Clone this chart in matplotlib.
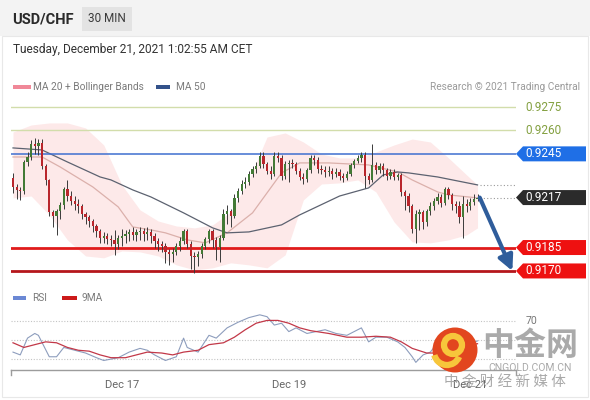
import matplotlib.pyplot as plt
import matplotlib.transforms as mtransforms
import numpy as np
from matplotlib.patches import Rectangle, Polygon, Ellipse, Arc

plt.rcParams["font.family"] = ["Roboto", "DejaVu Sans"]

W, H = 590, 400

# ---- price data (30 min candles) ----
first_open = 0.92296
closes = [
    0.92238, 0.92219, 0.92210, 0.92398, 0.92430, 0.92513, 0.92500, 0.92520, 0.92372, 0.92283,
    0.92078, 0.92052, 0.92084, 0.92123, 0.92225, 0.92180, 0.92148, 0.92129, 0.92116, 0.92065,
    0.92046, 0.92020, 0.91988, 0.91956, 0.91912, 0.91924, 0.91905, 0.91899, 0.91873, 0.91912,
    0.91924, 0.91937, 0.91950, 0.91931, 0.91950, 0.91956, 0.91937, 0.91950, 0.91924, 0.91892,
    0.91873, 0.91860, 0.91822, 0.91809, 0.91822, 0.91860, 0.91892, 0.91956, 0.91873, 0.91796,
    0.91790, 0.91809, 0.91860, 0.91905, 0.91956, 0.91899, 0.91854, 0.91912, 0.92065, 0.92084,
    0.92052, 0.92168, 0.92212, 0.92257, 0.92270, 0.92321, 0.92353, 0.92372, 0.92436, 0.92385,
    0.92340, 0.92321, 0.92436, 0.92424, 0.92308, 0.92385, 0.92392, 0.92385, 0.92340, 0.92302,
    0.92289, 0.92347, 0.92424, 0.92411, 0.92353, 0.92347, 0.92334, 0.92340, 0.92321, 0.92334,
    0.92308, 0.92296, 0.92321, 0.92379, 0.92404, 0.92424, 0.92443, 0.92308, 0.92283, 0.92379,
    0.92347, 0.92372, 0.92347, 0.92308, 0.92334, 0.92302, 0.92315, 0.92206, 0.92180, 0.92116,
    0.91969, 0.92065, 0.92078, 0.92014, 0.92084, 0.92116, 0.92148, 0.92174, 0.92136, 0.92225,
    0.92187, 0.92129, 0.92116, 0.92046, 0.92129, 0.92116, 0.92142, 0.92161, 0.92170,
]
highs = [
    0.92325, 0.92260, 0.92240, 0.92410, 0.92460, 0.92540, 0.92550, 0.92545, 0.92545, 0.92385,
    0.92290, 0.92090, 0.92100, 0.92140, 0.92235, 0.92280, 0.92210, 0.92180, 0.92160, 0.92130,
    0.92080, 0.92060, 0.92030, 0.92000, 0.91970, 0.91950, 0.91940, 0.91930, 0.91960, 0.91930,
    0.91970, 0.91960, 0.91970, 0.91980, 0.91970, 0.91980, 0.91975, 0.91980, 0.91970, 0.91940,
    0.91910, 0.91890, 0.91880, 0.91840, 0.91850, 0.91880, 0.91920, 0.91970, 0.91970, 0.91890,
    0.91820, 0.91830, 0.91880, 0.91920, 0.91970, 0.91970, 0.91920, 0.91930, 0.92100, 0.92120,
    0.92100, 0.92190, 0.92230, 0.92280, 0.92300, 0.92340, 0.92370, 0.92400, 0.92460, 0.92460,
    0.92400, 0.92370, 0.92460, 0.92460, 0.92440, 0.92405, 0.92410, 0.92420, 0.92400, 0.92360,
    0.92330, 0.92360, 0.92440, 0.92440, 0.92430, 0.92380, 0.92370, 0.92370, 0.92360, 0.92360,
    0.92350, 0.92330, 0.92340, 0.92390, 0.92420, 0.92440, 0.92460, 0.92460, 0.92330, 0.92510,
    0.92400, 0.92390, 0.92390, 0.92360, 0.92350, 0.92350, 0.92330, 0.92330, 0.92220, 0.92200,
    0.92130, 0.92090, 0.92100, 0.92090, 0.92100, 0.92140, 0.92170, 0.92200, 0.92190, 0.92240,
    0.92240, 0.92200, 0.92150, 0.92150, 0.92180, 0.92160, 0.92170, 0.92190, 0.92190,
]
lows = [
    0.92200, 0.92160, 0.92155, 0.92190, 0.92370, 0.92410, 0.92450, 0.92440, 0.92350, 0.92250,
    0.92050, 0.91980, 0.91930, 0.92030, 0.92100, 0.92150, 0.92120, 0.92090, 0.92070, 0.92030,
    0.92000, 0.91980, 0.91950, 0.91920, 0.91880, 0.91880, 0.91870, 0.91860, 0.91800, 0.91840,
    0.91860, 0.91880, 0.91890, 0.91900, 0.91890, 0.91900, 0.91890, 0.91900, 0.91880, 0.91850,
    0.91830, 0.91820, 0.91750, 0.91740, 0.91760, 0.91800, 0.91830, 0.91870, 0.91850, 0.91710,
    0.91690, 0.91730, 0.91780, 0.91840, 0.91880, 0.91850, 0.91770, 0.91760, 0.91900, 0.92000,
    0.91980, 0.92040, 0.92140, 0.92190, 0.92230, 0.92250, 0.92300, 0.92330, 0.92360, 0.92360,
    0.92320, 0.92290, 0.92310, 0.92400, 0.92280, 0.92290, 0.92270, 0.92360, 0.92320, 0.92280,
    0.92260, 0.92270, 0.92330, 0.92380, 0.92330, 0.92320, 0.92300, 0.92310, 0.92290, 0.92300,
    0.92280, 0.92270, 0.92280, 0.92310, 0.92360, 0.92390, 0.92400, 0.92230, 0.92260, 0.92270,
    0.92320, 0.92330, 0.92310, 0.92280, 0.92290, 0.92280, 0.92280, 0.92180, 0.92090, 0.92080,
    0.91940, 0.91880, 0.91960, 0.91970, 0.91990, 0.92060, 0.92090, 0.92130, 0.92110, 0.92120,
    0.92160, 0.92090, 0.92070, 0.92010, 0.91910, 0.92080, 0.92090, 0.92120, 0.92150,
]

# MA 20 + Bollinger bands, MA 50 (read at candle indices)
band_idx = [0, 5, 10, 15, 20, 25, 30, 35, 40, 45, 50, 55, 60, 65, 70, 75, 80, 85, 90, 95,
            100, 105, 110, 115, 120, 125, 128]
band_upper = [0.92590, 0.92635, 0.92648, 0.92648, 0.92616, 0.92507, 0.92251, 0.92091, 0.92020,
              0.91988, 0.91976, 0.91995, 0.92078, 0.92283, 0.92558, 0.92584, 0.92526, 0.92449,
              0.92424, 0.92424, 0.92462, 0.92507, 0.92545, 0.92526, 0.92424, 0.92315, 0.92251]
band_lower = [0.92168, 0.92180, 0.92059, 0.91899, 0.91796, 0.91784, 0.91828, 0.91822, 0.91796,
              0.91739, 0.91707, 0.91720, 0.91752, 0.91739, 0.91720, 0.91803, 0.92155, 0.92257,
              0.92264, 0.92283, 0.92206, 0.92014, 0.91886, 0.91880, 0.91899, 0.91931, 0.91976]
ma20_idx = [0, 8, 13, 22, 29, 33, 38, 42, 48, 53, 59, 66, 74, 79, 87, 98, 106, 110, 117, 120, 128]
ma20_val = [0.92430, 0.92430, 0.92366, 0.92238, 0.92110, 0.91982, 0.91963, 0.91944, 0.91899,
            0.91880, 0.91944, 0.92072, 0.92328, 0.92392, 0.92392, 0.92379, 0.92334, 0.92283,
            0.92206, 0.92187, 0.92168]
ma50_idx = [0, 8, 15, 18, 24, 27, 33, 38, 47, 55, 59, 65, 74, 79, 90, 98, 102, 106, 109, 117, 128]
ma50_val = [0.92488, 0.92475, 0.92398, 0.92366, 0.92302, 0.92283, 0.92219, 0.92174, 0.92072,
            0.91976, 0.91944, 0.91950, 0.91995, 0.92059, 0.92180, 0.92232, 0.92315, 0.92334,
            0.92328, 0.92302, 0.92251]

# RSI and its 9MA
rsi_idx = [0, 2, 4, 6, 7, 10, 12, 14, 17, 20, 23, 25, 29, 32, 35, 37, 39, 42, 45, 47, 48, 51,
           54, 56, 59, 62, 65, 68, 70, 72, 74, 76, 78, 81, 86, 89, 92, 96, 98, 100, 103, 106,
           108, 110, 111, 113, 115, 117, 120, 122, 124, 126, 128]
rsi_val = [37, 34, 52, 57, 55, 32, 32, 42, 39, 36, 31, 28, 31, 37, 41, 39, 34, 28, 32, 52, 42, 37,
           55, 52, 63, 69, 74, 77, 75, 66, 68, 59, 63, 57, 61, 57, 55, 63, 48, 53, 53, 48,
           42, 32, 26, 34, 37, 47, 52, 48, 42, 46, 49]
ma9_idx = [0, 3, 6, 9, 12, 15, 18, 21, 24, 27, 31, 34, 37, 41, 44, 47, 51, 54, 58, 61, 64, 67,
           70, 73, 76, 79, 82, 87, 92, 96, 100, 104, 107, 110, 114, 116, 120, 124, 128]
ma9_val = [47, 42, 45, 48, 47, 42, 39, 38, 34, 31, 31, 34, 37, 36, 34, 37, 39, 45, 47, 53, 61, 68,
           71, 71, 68, 63, 60, 57, 53, 53, 54, 53, 48, 41, 36, 36, 40, 44, 46]
rsi_levels = [70, 50, 30]

date_labels = ["Dec 17", "Dec 19", "Dec 21"]
date_idx = [30, 76, 126]

olive_levels = [0.9275, 0.9260]
pivot_level = 0.9245
support_levels = [0.9185, 0.9170]
support_colors = ["#e01b1b", "#b5161c"]


def fx(px):
    return px / W


def fy(py):
    return 1 - py / H


fig = plt.figure(figsize=(W / 100, H / 100), dpi=100)

# header
fig.patches.append(Rectangle((0, fy(36)), 1, 36 / H, transform=fig.transFigure,
                             facecolor="#f3f3f3", edgecolor="none", zorder=0))
fig.patches.append(Rectangle((fx(82), fy(31)), fx(50), 24 / H, transform=fig.transFigure,
                             facecolor="#e3e3e3", edgecolor="none", zorder=1))
fig.patches.append(Rectangle((fx(2), fy(397)), fx(586), 361 / H, transform=fig.transFigure,
                             facecolor="none", edgecolor="#e8e8e8", lw=0.8, zorder=1))
fig.text(fx(12), fy(19), "USD/CHF", fontsize=10.5, fontweight="bold", color="#2a2a2a",
         va="center")
fig.text(fx(107), fy(19), "30 MIN", fontsize=8.5, color="#3a3a3a", va="center", ha="center")
fig.text(fx(13), fy(49), "Tuesday, December 21, 2021 1:02:55 AM CET", fontsize=8.6,
         color="#333333", va="center")

# legend row
fig.patches.append(Rectangle((fx(13), fy(89)), fx(18), 4 / H, transform=fig.transFigure,
                             facecolor="#f08898", edgecolor="none"))
fig.text(fx(33), fy(86.5), "MA 20 + Bollinger Bands", fontsize=7.3, color="#7a7a7a", va="center")
fig.patches.append(Rectangle((fx(156), fy(89)), fx(14), 4 / H, transform=fig.transFigure,
                             facecolor="#33528a", edgecolor="none"))
fig.text(fx(176), fy(86.5), "MA 50", fontsize=7.3, color="#7a7a7a", va="center")
fig.text(fx(580), fy(86.5), "Research \u00a9 2021 Trading Central", fontsize=7.3,
         color="#9a9a9a", va="center", ha="right")

# ---- main price panel ----
ax = fig.add_axes([fx(11), fy(285), fx(505), 190 / H])
ax.set_xlim(-0.55, 138.6)
ax.set_ylim(0.91610, 0.92827)
ax.axis("off")

ax.fill_between(band_idx, band_lower, band_upper, color="#fde2e2", alpha=0.75, lw=0, zorder=1)
ax.plot(ma20_idx, ma20_val, color="#dbb0ab", lw=0.9, zorder=2)
ax.plot(ma50_idx, ma50_val, color="#5c6270", lw=0.9, zorder=2)

for lv in olive_levels:
    ax.axhline(lv, color="#d2ddab", lw=1.0, zorder=1)
ax.axhline(pivot_level, color="#3f6fd0", lw=1.1, zorder=3)
for lv, col in zip(support_levels, support_colors):
    ax.axhline(lv, color=col, lw=2.0, zorder=3)

o = np.array([first_open] + closes[:-1])
c = np.array(closes)
hi = np.array(highs)
lo = np.array(lows)
idx = np.arange(len(c))
up = c >= o
ax.vlines(idx, lo, hi, color="#3a3a3a", lw=0.7, zorder=4)
ax.bar(idx, np.maximum(np.abs(c - o), 0.00007), bottom=np.minimum(o, c), width=0.62,
       color=np.where(up, "#437a36", "#b9262c"), lw=0, zorder=5)

last = len(c) - 1
ax.hlines([ma50_val[-1], closes[-1]], last + 0.6, 138.3, colors="#9a9a9a", lw=0.8,
          linestyles=(0, (1, 2)), zorder=3)
ax.annotate("", xy=(last + 9.6, support_levels[-1]), xytext=(last + 0.6, closes[-1]),
            arrowprops=dict(arrowstyle="-|>,head_length=0.9,head_width=0.45", lw=3,
                            color="#2f5d9b", shrinkA=0, shrinkB=0), zorder=6,
            annotation_clip=False)

tag_tr = mtransforms.blended_transform_factory(fig.transFigure, ax.transData)
half = 7.5 / 15620.0


def tag(level, color):
    pts = [(fx(516), level), (fx(523), level + half), (fx(586), level + half),
           (fx(586), level - half), (fx(523), level - half)]
    ax.add_patch(Polygon(pts, closed=True, transform=tag_tr, facecolor=color,
                         edgecolor="none", clip_on=False, zorder=7))
    ax.text(fx(525), level, f"{level:.4f}", transform=tag_tr, fontsize=8.5, color="white",
            va="center", ha="left", clip_on=False, zorder=8)


for lv in olive_levels:
    ax.text(fx(525), lv, f"{lv:.4f}", transform=tag_tr, fontsize=8.5, color="#83a040",
            va="center", ha="left", clip_on=False)
tag(pivot_level, "#1f6fe6")
tag(round(closes[-1], 4), "#2b2b2b")
for lv in support_levels:
    tag(lv, "#ee1111")

# ---- RSI panel ----
fig.patches.append(Rectangle((fx(13), fy(299.5)), fx(13), 4 / H, transform=fig.transFigure,
                             facecolor="#6b88d4", edgecolor="none"))
fig.text(fx(32), fy(298), "RSI", fontsize=7.3, color="#7a7a7a", va="center")
fig.patches.append(Rectangle((fx(62), fy(299.5)), fx(15), 4 / H, transform=fig.transFigure,
                             facecolor="#cc1a1a", edgecolor="none"))
fig.text(fx(82), fy(298), "9MA", fontsize=7.3, color="#7a7a7a", va="center")

rax = fig.add_axes([fx(11), fy(370), fx(505), 70 / H])
rax.set_xlim(-0.55, 138.6)
rax.set_ylim(17.8, 92.9)
for s in ["top", "right", "left"]:
    rax.spines[s].set_visible(False)
rax.spines["bottom"].set_color("#9c9c9c")
rax.spines["bottom"].set_linewidth(1.0)
rax.set_yticks([])
rax.set_xticks(date_idx)
rax.set_xticklabels(date_labels, fontsize=8, color="#666666")
rax.tick_params(axis="x", length=0, pad=7)
for xe in [0, 1]:
    rax.plot([xe, xe], [0, -0.07], transform=rax.transAxes, color="#9c9c9c", lw=1,
             clip_on=False)
for lv in rsi_levels:
    rax.axhline(lv, color="#c4c4c4", lw=0.8, ls=(0, (1, 1.5)))
rax.plot(rsi_idx, rsi_val, color="#8d9dbd", lw=0.8)
rax.plot(ma9_idx, ma9_val, color="#c23848", lw=0.9)
rtr = mtransforms.blended_transform_factory(fig.transFigure, rax.transData)
rax.text(fx(531), 70, "70", transform=rtr, fontsize=7.5, color="#777777",
         va="center", ha="center", clip_on=False)

# ---- watermark ----
fig.patches.append(Ellipse((fx(455), fy(350)), fx(45), 45 / H, transform=fig.transFigure,
                           facecolor="#e2461f", edgecolor="none", zorder=10))
fig.patches.append(Ellipse((fx(453), fy(345)), fx(18), 18 / H, transform=fig.transFigure,
                           facecolor="none", edgecolor="#f7c63b", lw=4.5, zorder=11))
fig.patches.append(Arc((fx(447), fy(352)), fx(26), 26 / H, theta1=200, theta2=330,
                       transform=fig.transFigure, edgecolor="#f7c63b", lw=4.5, zorder=11))
fig.text(fx(530), fy(346), "中金网", fontsize=23, fontweight="bold", color="#9b9b9b",
         alpha=0.85, ha="center", va="center", family=["Noto Sans CJK SC", "DejaVu Sans"],
         zorder=12)
fig.text(fx(530), fy(368), "CNGOLD.COM.CN", fontsize=7.5, color="#a0a0a0", alpha=0.9,
         ha="center", va="center", zorder=12)
fig.text(fx(505), fy(382), "中 金 财 经 新 媒 体", fontsize=10.5, color="#a0a0a0",
         alpha=0.9, ha="center", va="center", family=["Noto Sans CJK SC", "DejaVu Sans"],
         zorder=12)

fig.savefig("out.png", dpi=100)
